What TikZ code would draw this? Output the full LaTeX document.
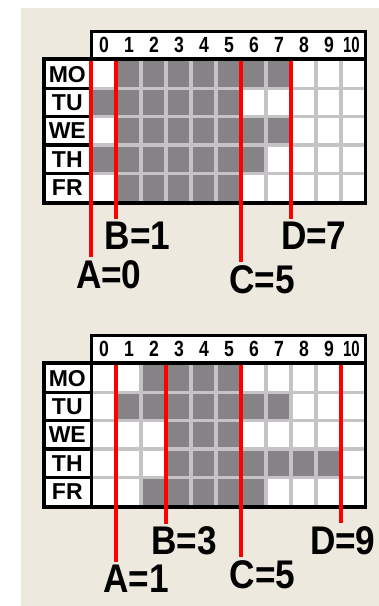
\documentclass[tikz,border=0pt]{standalone}
\usepackage{fontspec}
\usepackage{graphicx}
\setmainfont{Liberation Sans}
\definecolor{bg}{HTML}{EDE9DF}
\definecolor{cellfill}{HTML}{858385}
\definecolor{gridline}{HTML}{C6C3C6}
\definecolor{marker}{HTML}{FF0000}
\tikzset{
  hdr/.style={inner sep=0pt, font=\bfseries\fontsize{22}{22}\selectfont},
  day/.style={inner sep=0pt, font=\bfseries\fontsize{23}{23}\selectfont},
  lab/.style={inner sep=0pt, anchor=north, font=\bfseries\fontsize{40}{40}\selectfont},
  frame/.style={draw=black, line width=3.6pt},
  thinline/.style={line width=3.3pt},
  redline/.style={draw=marker, line width=3.3pt, shorten >=3pt}
}
\newcommand\drawpanel[3]{%
 \begin{scope}[yshift=-#1pt]
  \fill[white] (91.3,31.3) rectangle (365.3,59);
  \fill[white] (43.7,59) rectangle (365.3,202.7);
  \foreach \r/\a/\b in {#3} {
    \fill[cellfill] ({91+25*\a},{60+28.333*\r}) rectangle ({116+25*\b},{88.333+28.333*\r});
  }
  \foreach \k in {1,...,10} {
    \draw[gridline, thinline] ({91+25*\k},59) -- ({91+25*\k},202.7);
  }
  \foreach \r in {1,...,4} {
    \draw[gridline, thinline] (91.3,{60+28.333*\r}) -- (365.3,{60+28.333*\r});
    \draw[black, thinline] (43.7,{60+28.333*\r}) -- (91.3,{60+28.333*\r});
  }
  \draw[frame] (91.3,31.3) rectangle (365.3,59);
  \draw[frame] (43.7,59) rectangle (365.3,202.7);
  \draw[frame] (91.3,59) -- (91.3,202.7);
  \foreach \k in {0,...,9} {
    \node[hdr] (h#2\k) at ({104+25*\k},45) {\scalebox{0.8}[1]{\k}};
  }
  \node[hdr] (h#2ten) at (351.5,45) {\scalebox{0.68}[1]{10}};
  \foreach \d [count=\i from 0] in {MO,TU,WE,TH,FR} {
    \node[day] (d#2\i) at (67.3,{74.17+28.333*\i}) {\d};
  }
 \end{scope}}
\begin{document}
\begin{tikzpicture}[x=1pt,y=-1pt]
\useasboundingbox (0,0) rectangle (379,606);
\fill[white] (0,0) rectangle (379,606);
\fill[bg] (21,8) rectangle (379,606);

\drawpanel{0}{t}{0/1/7,1/0/5,2/1/7,3/0/6,4/1/5}
\drawpanel{304}{b}{0/2/5,1/1/7,2/3/5,3/3/9,4/2/6}

% top panel markers
\coordinate (tA) at (91,61);
\coordinate (tB) at (116,61);
\coordinate (tC) at (241,61);
\coordinate (tD) at (291,61);
\node[lab] (tlA) at (108.8,260) {\scalebox{0.88}[1]{A=0}};
\node[lab] (tlB) at (137.5,221.7) {\scalebox{0.88}[1]{B=1}};
\node[lab] (tlC) at (262.2,265) {\scalebox{0.88}[1]{C=5}};
\node[lab] (tlD) at (313.8,221.7) {\scalebox{0.88}[1]{D=7}};
\draw[redline] (tA) -- (tA |- tlA.north);
\draw[redline] (tB) -- (tB |- tlB.north);
\draw[redline] (tC) -- (tC |- tlC.north);
\draw[redline] (tD) -- (tD |- tlD.north);

% bottom panel markers
\coordinate (bA) at (116,365);
\coordinate (bB) at (166,365);
\coordinate (bC) at (241,365);
\coordinate (bD) at (341,365);
\node[lab] (blA) at (136.3,565) {\scalebox{0.88}[1]{A=1}};
\node[lab] (blB) at (184.2,526.7) {\scalebox{0.88}[1]{B=3}};
\node[lab] (blC) at (262.5,560) {\scalebox{0.88}[1]{C=5}};
\node[lab] (blD) at (342.8,526) {\scalebox{0.88}[1]{D=9}};
\draw[redline] (bA) -- (bA |- blA.north);
\draw[redline] (bB) -- (bB |- blB.north);
\draw[redline] (bC) -- (bC |- blC.north);
\draw[redline] (bD) -- (bD |- blD.north);
\end{tikzpicture}
\end{document}
